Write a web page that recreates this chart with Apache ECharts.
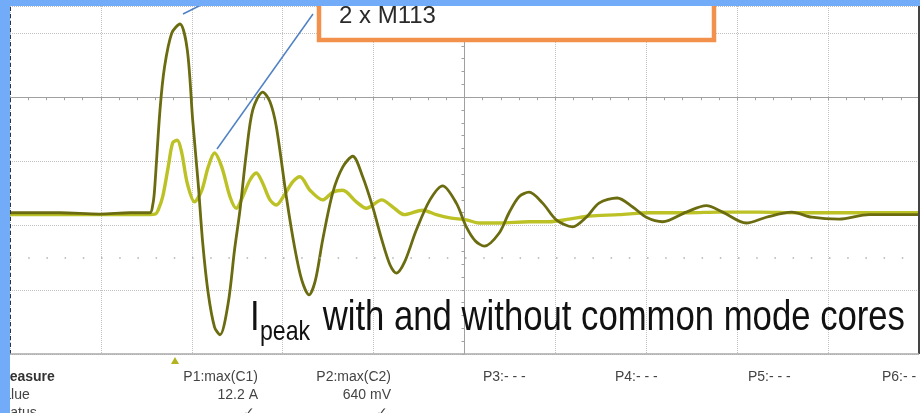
<!DOCTYPE html>
<html>
<head>
<meta charset="utf-8">
<script src="https://cdn.jsdelivr.net/npm/echarts@6/dist/echarts.min.js"></script>
<style>
html,body{margin:0;padding:0;background:#fff;}
#chart{width:920px;height:413px;}
</style>
</head>
<body>
<div id="chart"></div>
<script>
// Time in screen divisions (centre = 0), amplitude in vertical divisions (centre line = 0)
const darkT = [-5,-4.45,-4.01,-3.68,-3.46,-3.43,-3.41,-3.35,-3.30,-3.22,-3.13,-3.05,-2.99,-2.93,-2.88,-2.82,-2.75,-2.69,-2.60,-2.53,-2.47,-2.40,-2.33,-2.22,-2.14,-2.07,-1.96,-1.87,-1.79,-1.71,-1.64,-1.56,-1.45,-1.34,-1.23,-1.12,-1.01,-0.91,-0.82,-0.75,-0.66,-0.53,-0.38,-0.24,-0.09,0.02,0.12,0.22,0.38,0.49,0.60,0.71,0.86,1.01,1.19,1.34,1.48,1.68,1.85,2.00,2.18,2.44,2.66,2.84,3.10,3.32,3.60,3.82,4.12,4.45,5];
const darkV = [-1.80,-1.80,-1.82,-1.80,-1.80,-1.68,-1.45,-0.20,0.47,1.00,1.14,0.74,-0.36,-1.34,-2.27,-3.05,-3.58,-3.70,-3.21,-2.38,-1.76,-0.87,-0.20,0.08,-0.07,-0.46,-1.55,-2.33,-2.85,-3.08,-2.85,-2.22,-1.49,-1.09,-0.92,-1.24,-1.71,-2.22,-2.61,-2.74,-2.57,-2.07,-1.60,-1.38,-1.65,-2.02,-2.24,-2.32,-2.12,-1.80,-1.55,-1.48,-1.65,-1.91,-2.02,-1.87,-1.65,-1.57,-1.71,-1.87,-1.94,-1.79,-1.69,-1.79,-1.96,-1.87,-1.79,-1.87,-1.90,-1.83,-1.83];
const lightT = [-5,-4.01,-3.46,-3.40,-3.37,-3.32,-3.26,-3.21,-3.16,-3.11,-3.05,-2.97,-2.89,-2.82,-2.75,-2.67,-2.58,-2.51,-2.44,-2.36,-2.29,-2.22,-2.14,-2.07,-1.98,-1.89,-1.81,-1.70,-1.56,-1.45,-1.34,-1.19,-1.08,-0.91,-0.79,-0.66,-0.46,-0.31,-0.16,0.02,0.16,0.38,0.71,0.93,1.15,1.37,1.70,2.03,2.47,2.80,3.24,3.68,4.23,5];
const lightV = [-1.83,-1.83,-1.83,-1.82,-1.76,-1.55,-1.09,-0.71,-0.67,-0.87,-1.34,-1.63,-1.45,-1.09,-0.87,-1.09,-1.55,-1.73,-1.55,-1.29,-1.18,-1.34,-1.60,-1.68,-1.52,-1.32,-1.24,-1.45,-1.60,-1.48,-1.45,-1.63,-1.73,-1.60,-1.71,-1.83,-1.76,-1.83,-1.88,-1.91,-1.96,-1.96,-1.94,-1.94,-1.90,-1.85,-1.83,-1.80,-1.80,-1.79,-1.79,-1.80,-1.80,-1.80];

const rowLabels = ['Measure', 'Value', 'Status'];
const paramNames = ['P1:max(C1)', 'P2:max(C2)', 'P3:- - -', 'P4:- - -', 'P5:- - -', 'P6:- - -'];
const paramValues = ['12.2 A', '640 mV'];
const boxLabel = '2 x M113';
const titleMain = 'I';
const titleSub = 'peak';
const titleRest = ' with and without common mode cores';

const DARK = '#6b6b10';
const LIGHT = '#bcc226';
const BLUE = '#72abf7';

const chart = echarts.init(document.getElementById('chart'), null, {renderer: 'canvas'});

function txt(x, y, text, size, opts) {
  opts = opts || {};
  return {
    type: 'text', x: x, y: y - 0.3465 * size, z: opts.z || 50,
    scaleX: opts.scaleX || 1,
    style: {
      text: text,
      font: (opts.weight || 'normal') + ' ' + size + 'px "Liberation Sans", Arial, sans-serif',
      fill: opts.color || '#444',
      align: opts.align || 'left', textAlign: opts.align || 'left',
      verticalAlign: 'middle', textVerticalAlign: 'middle'
    }
  };
}

const graphics = [];
// annotation box
graphics.push({type: 'rect', shape: {x: 319, y: -10, width: 395, height: 50}, z: 40,
  style: {fill: '#fff', stroke: '#f2914c', lineWidth: 4.5}});
graphics.push(txt(339, 25, boxLabel, 24, {color: '#2a2a2a', z: 45}));
// pointer lines
graphics.push({type: 'line', shape: {x1: 183, y1: 14, x2: 203, y2: 4}, z: 41,
  style: {stroke: '#4f81c4', lineWidth: 1.5}});
graphics.push({type: 'line', shape: {x1: 217, y1: 149, x2: 313, y2: 14}, z: 41,
  style: {stroke: '#4f81c4', lineWidth: 1.5}});
// title
graphics.push(txt(250, 333, titleMain, 42, {color: '#111', scaleX: 0.826}));
graphics.push(txt(260, 342, titleSub, 28, {color: '#111', scaleX: 0.826}));
graphics.push(txt(313, 333, titleRest, 42, {color: '#111', scaleX: 0.826}));
// trigger marker
graphics.push({type: 'polygon', shape: {points: [[171, 364], [179, 364], [175, 357]]}, z: 30,
  style: {fill: '#b3b320'}});
// measurement table
const rowBase = [382, 400, 418];
graphics.push(txt(-2, rowBase[0], rowLabels[0], 14, {weight: 'bold', color: '#333'}));
graphics.push(txt(-5, rowBase[1], rowLabels[1], 14, {color: '#444'}));
graphics.push(txt(-3, rowBase[2], rowLabels[2], 14, {color: '#444'}));
const colRight = [258, 391];
for (let i = 0; i < 2; i++) {
  graphics.push(txt(colRight[i], rowBase[0], paramNames[i], 14, {align: 'right'}));
  graphics.push(txt(colRight[i], rowBase[1], paramValues[i], 14, {align: 'right'}));
  graphics.push(txt(colRight[i] - 3, rowBase[2], '\u2713', 14, {align: 'right'}));
}
const colLeft = [483, 615, 748, 882];
for (let i = 2; i < 6; i++) {
  graphics.push(txt(colLeft[i - 2], rowBase[0], paramNames[i], 14, {}));
}
// blue frame
graphics.push({type: 'rect', shape: {x: 0, y: 0, width: 920, height: 6}, z: 100, style: {fill: BLUE}});
graphics.push({type: 'rect', shape: {x: 0, y: 0, width: 10, height: 413}, z: 100, style: {fill: BLUE}});

const axisCommon = {
  type: 'value',
  axisLabel: {show: false},
  axisLine: {show: true, onZero: true, lineStyle: {color: '#a0a0a0', width: 1}},
  axisTick: {show: true, length: 3, lineStyle: {color: '#a0a0a0'}},
  minorTick: {show: true, splitNumber: 5, length: 3, lineStyle: {color: '#a0a0a0'}},
  splitLine: {show: true, lineStyle: {type: 'dotted', color: '#c2c2c2', width: 1}},
  minorSplitLine: {show: false}
};

chart.setOption({
  animation: false,
  backgroundColor: '#fff',
  grid: {left: 10, right: 1, top: 6, bottom: 59},
  xAxis: Object.assign({}, axisCommon, {min: -5, max: 5, interval: 1}),
  yAxis: Object.assign({}, axisCommon, {min: -4, max: 1.42, interval: 1}),
  series: [
    {
      type: 'line', name: 'C2', showSymbol: false, smooth: 0.3, z: 3,
      data: lightT.map((t, i) => [t, lightV[i]]),
      lineStyle: {color: LIGHT, width: 3.4},
      markLine: {
        silent: true, symbol: 'none', label: {show: false},
        data: [
          {xAxis: -5, lineStyle: {type: [4, 3], color: '#333', width: 1}},
          {xAxis: 5, lineStyle: {type: 'solid', color: '#444', width: 2}},
          {yAxis: -4, lineStyle: {type: 'solid', color: '#aaa', width: 1.5}},
          {yAxis: -2.5, lineStyle: {type: [1.5, 16.7], color: '#b0b0b0', width: 1.5}}
        ]
      }
    },
    {
      type: 'line', name: 'C1', showSymbol: false, smooth: 0.3, z: 4,
      data: darkT.map((t, i) => [t, darkV[i]]),
      lineStyle: {color: DARK, width: 2.8}
    }
  ],
  graphic: {elements: graphics}
});
</script>
</body>
</html>
